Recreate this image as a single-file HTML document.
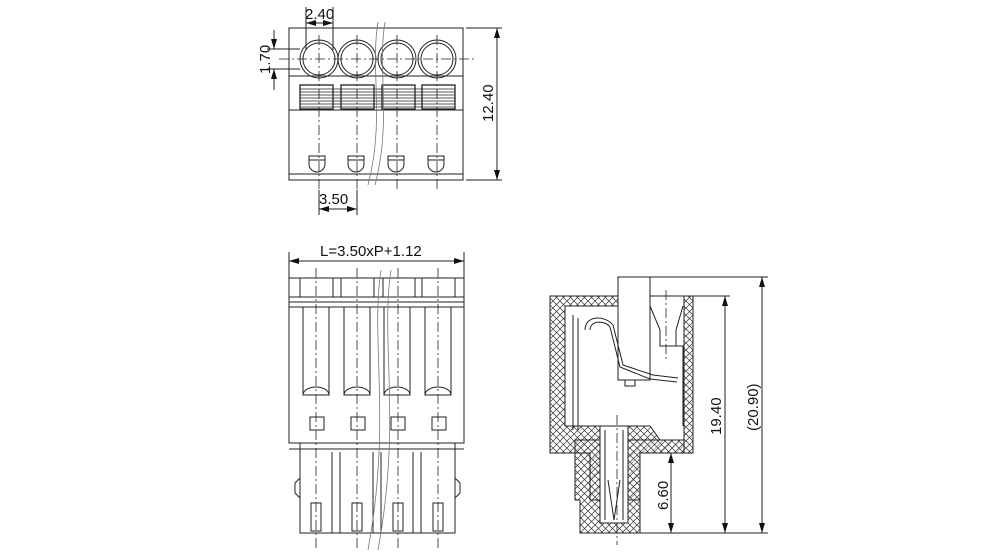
<!DOCTYPE html>
<html><head><meta charset="utf-8"><style>
html,body{margin:0;padding:0;background:#fff;}
svg{display:block;}
text{font-family:"Liberation Sans",sans-serif;font-size:15px;fill:#111;}
</style></head><body>
<svg width="990" height="552" viewBox="0 0 990 552" xmlns="http://www.w3.org/2000/svg">
<defs>
<marker id="a" viewBox="0 0 10 6" refX="10" refY="3" markerWidth="10" markerHeight="6" orient="auto-start-reverse"><path d="M0,0L10,3L0,6z" fill="#111"/></marker>
<pattern id="x" width="7" height="7" patternUnits="userSpaceOnUse"><path d="M0,0L7,7M7,0L0,7" stroke="#333" stroke-width="0.7"/></pattern>
<pattern id="h" width="6" height="6" patternUnits="userSpaceOnUse" patternTransform="rotate(45)"><path d="M0,0V6" stroke="#333" stroke-width="0.7"/></pattern>
</defs>
<g fill="none" stroke="#222" stroke-width="1">
<!-- TOP VIEW -->
<rect x="289" y="28" width="174" height="152"/>
<line x1="289" y1="110" x2="463" y2="110"/>
<line x1="289" y1="174" x2="463" y2="174"/>
<line x1="289" y1="76" x2="463" y2="76"/>
<g>
<circle cx="319" cy="59" r="19"/><circle cx="319" cy="59" r="16"/>
<circle cx="357" cy="59" r="19"/><circle cx="357" cy="59" r="16"/>
<circle cx="397" cy="59" r="19"/><circle cx="397" cy="59" r="16"/>
<circle cx="437" cy="59" r="19"/><circle cx="437" cy="59" r="16"/>
</g>
<g stroke-width="1.3">
<rect x="300" y="85" width="33" height="24"/><rect x="341" y="85" width="33" height="24"/><rect x="382" y="85" width="33" height="24"/><rect x="422" y="85" width="33" height="24"/>
</g>
<path d="M300,89H455M300,92H455M300,95H455M300,98H455M300,101H455M300,104H455M300,107H455" stroke-width="0.8"/>
<path d="M309,156h16v8a8,8 0 0 1 -16,0z M348,156h16v8a8,8 0 0 1 -16,0z M388,156h16v8a8,8 0 0 1 -16,0z M428,156h16v8a8,8 0 0 1 -16,0z"/>
<path d="M309,160h16M348,160h16M388,160h16M428,160h16"/>
<g stroke-dasharray="10,3,2,3" stroke-width="0.8">
<line x1="319" y1="35" x2="319" y2="190"/><line x1="357" y1="35" x2="357" y2="190"/><line x1="397" y1="35" x2="397" y2="190"/><line x1="437" y1="35" x2="437" y2="190"/>
<line x1="279" y1="59" x2="475" y2="59"/>
</g>
<path d="M378,22 C370,70 385,120 368,185 M385,22 C377,70 392,120 375,185" stroke="#777" stroke-width="0.8"/>
<line x1="306" y1="7" x2="306" y2="50"/><line x1="333" y1="7" x2="333" y2="50"/>
<line x1="306" y1="23" x2="333" y2="23" marker-start="url(#a)" marker-end="url(#a)"/>
<line x1="267" y1="49" x2="300" y2="49"/><line x1="267" y1="69" x2="300" y2="69"/>
<line x1="274" y1="30" x2="274" y2="49" marker-end="url(#a)"/><line x1="274" y1="90" x2="274" y2="69" marker-end="url(#a)"/>
<line x1="466" y1="28" x2="502" y2="28"/><line x1="466" y1="180" x2="502" y2="180"/>
<line x1="497" y1="28" x2="497" y2="180" marker-start="url(#a)" marker-end="url(#a)"/>
<line x1="319" y1="190" x2="319" y2="215"/><line x1="357" y1="190" x2="357" y2="215"/>
<line x1="319" y1="209" x2="357" y2="209" marker-start="url(#a)" marker-end="url(#a)"/>

<!-- FRONT VIEW -->
<line x1="289" y1="252" x2="289" y2="278"/><line x1="464" y1="252" x2="464" y2="278"/>
<line x1="289" y1="261" x2="464" y2="261" marker-start="url(#a)" marker-end="url(#a)"/>
<rect x="289" y="278" width="175" height="165"/>
<line x1="289" y1="297" x2="464" y2="297"/><line x1="289" y1="302" x2="464" y2="302"/><line x1="289" y1="307" x2="464" y2="307"/>
<path d="M300,278v19M333,278v19M341,278v19M374,278v19M383,278v19M415,278v19M422,278v19M455,278v19"/>
<path d="M303,307v88h26v-88M344,307v88h26v-88M384,307v88h26v-88M425,307v88h26v-88"/>
<path d="M303,395a13,8 0 0 1 26,0M344,395a13,8 0 0 1 26,0M384,395a13,8 0 0 1 26,0M425,395a13,8 0 0 1 26,0"/>
<path d="M310,417h14v13h-14zM351,417h14v13h-14zM391,417h14v13h-14zM432,417h14v13h-14z"/>
<line x1="289" y1="449" x2="464" y2="449"/>
<path d="M300,443v90h155v-90M332,452v81M340,452v81M373,452v81M381,452v81M413,452v81M421,452v81"/>
<path d="M300,478l-5,5v10l5,5M455,478l5,5v10l-5,5"/>
<path d="M311,503h10v28h-10zM352,503h10v28h-10zM393,503h10v28h-10zM433,503h10v28h-10z"/>
<g stroke-dasharray="10,3,2,3" stroke-width="0.8">
<line x1="316" y1="268" x2="316" y2="548"/><line x1="357" y1="268" x2="357" y2="548"/><line x1="398" y1="268" x2="398" y2="548"/><line x1="438" y1="268" x2="438" y2="548"/>
</g>
<path d="M381,270 C370,340 392,420 368,550 M391,270 C380,340 402,420 378,550" stroke="#777" stroke-width="0.8"/>

<!-- SIDE VIEW -->
<path d="M550,296H618V277H650V296H693V453H640V533H580V500H575V453H550z" fill="url(#x)"/>
<path d="M565,306H618V380H650V296H684V440H660L650,426H565z" fill="#fff"/>
<path d="M575,440H684V453H640V500H590V453H575z" fill="url(#h)"/>
<path d="M600,426h28v97h-28z" fill="#fff"/>
<path d="M605,430v90M623,430v90M608,480l6,40l6,-40"/>
<path d="M618,277h32v103h-32z" fill="#fff"/>
<path d="M650,306l10,24l0,16h16l0,-16l7,-24"/>
<path d="M660,346h23v80"/>
<path d="M585,330c0,-15 20,-15 28,-5l10,40l30,10l25,3"/>
<path d="M590,330c0,-10 15,-10 20,-3l10,40l30,12l27,3"/>
<path d="M625,380h10v6h-10z"/>
<path d="M573,315v115M578,318v112"/>
<g stroke-dasharray="10,3,2,3" stroke-width="0.8">
<line x1="666" y1="290" x2="666" y2="360"/><line x1="617" y1="415" x2="617" y2="545"/>
</g>
<line x1="650" y1="277" x2="768" y2="277"/><line x1="693" y1="296" x2="730" y2="296"/>
<line x1="640" y1="533" x2="768" y2="533"/><line x1="693" y1="453" x2="676" y2="453"/>
<line x1="671" y1="453" x2="671" y2="533" marker-start="url(#a)" marker-end="url(#a)"/>
<line x1="725" y1="296" x2="725" y2="533" marker-start="url(#a)" marker-end="url(#a)"/>
<line x1="762" y1="277" x2="762" y2="533" marker-start="url(#a)" marker-end="url(#a)"/>
</g>
<text x="305" y="19">2.40</text>
<text x="319" y="204">3.50</text>
<text transform="translate(270,74) rotate(-90)">1.70</text>
<text transform="translate(493,122) rotate(-90)">12.40</text>
<text x="320" y="256">L=3.50xP+1.12</text>
<text transform="translate(668,510) rotate(-90)">6.60</text>
<text transform="translate(721,435) rotate(-90)">19.40</text>
<text transform="translate(758,431) rotate(-90)">(20.90)</text>
</svg>
</body></html>
